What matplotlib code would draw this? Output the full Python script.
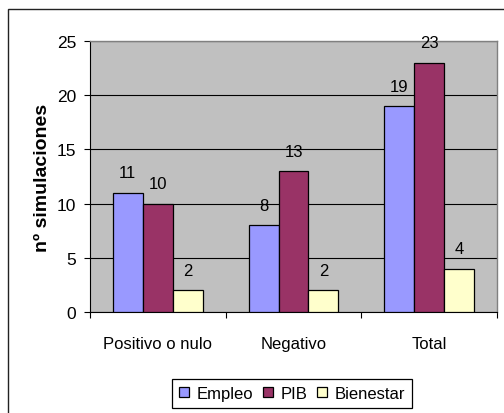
import matplotlib
matplotlib.use("Agg")
import matplotlib.pyplot as plt
import matplotlib.patches as mpatches
import numpy as np

# simulation counts by sign of the effect
categories = ["Positivo o nulo", "Negativo", "Total"]
series_names = ["Empleo", "PIB", "Bienestar"]
empleo = [11, 8, 19]
pib = [10, 13, 23]
bienestar = [2, 2, 4]
series_values = [empleo, pib, bienestar]
series_colors = ["#9999FF", "#993366", "#FFFFCC"]

yticks = [0, 5, 10, 15, 20, 25]

plt.rcParams['font.family'] = ['Liberation Sans', 'DejaVu Sans']

fig = plt.figure(figsize=(5.04, 4.14), dpi=100)
ax = fig.add_axes([90 / 504, 1 - 313 / 414, 407 / 504, 271 / 414])
ax.set_facecolor("#C0C0C0")

# chart frame around everything
frame = mpatches.Rectangle((8 / 504, -0.1), 1.2, 1 - 10 / 414 + 0.1,
                           transform=fig.transFigure, fill=False,
                           edgecolor="#222222", linewidth=1.0, zorder=0)
fig.patches.append(frame)

x = np.arange(len(categories))
width = 0.221
for i, (name, values, color) in enumerate(zip(series_names, series_values, series_colors)):
    offs = (i - 1) * width
    ax.bar(x + offs, values, width, color=color, edgecolor="black",
           linewidth=0.9, label=name, zorder=3)
    for xi, v in zip(x, values):
        ax.annotate(str(v), (xi + offs, v), xytext=(0, 9),
                    textcoords="offset points", ha="center", va="bottom",
                    fontsize=12)

ax.set_xlim(-0.5, len(categories) - 0.5)
ax.set_ylim(0, 25)

# gridlines and axes
ax.set_yticks(yticks)
ax.yaxis.grid(True, color="black", linewidth=0.8)
ax.set_axisbelow(True)
ax.tick_params(axis="y", direction="out", length=4, width=0.8, pad=6,
               labelsize=12.5)
ax.set_xticks(x)
ax.set_xticklabels(categories)
ax.set_xticks(np.arange(-0.5, len(categories)), minor=True)
ax.tick_params(axis="x", which="major", length=0, pad=17, labelsize=12)
ax.tick_params(axis="x", which="minor", direction="out", length=4, width=0.8)

for side in ["top", "right"]:
    ax.spines[side].set_color("#808080")
    ax.spines[side].set_linewidth(1.0)
for side in ["left", "bottom"]:
    ax.spines[side].set_color("black")
    ax.spines[side].set_linewidth(0.8)

ax.set_ylabel("nº simulaciones", fontsize=14, fontweight="bold", labelpad=4)

leg = fig.legend(loc="center", bbox_to_anchor=(292 / 504, 1 - 394.5 / 414),
                 ncol=3, fontsize=12, frameon=True, fancybox=False,
                 edgecolor="black", framealpha=1, handlelength=0.6,
                 handleheight=0.6, handletextpad=0.45, columnspacing=0.6,
                 borderpad=0.4)
leg.get_frame().set_linewidth(0.9)

fig.savefig("out.png", dpi=100)
